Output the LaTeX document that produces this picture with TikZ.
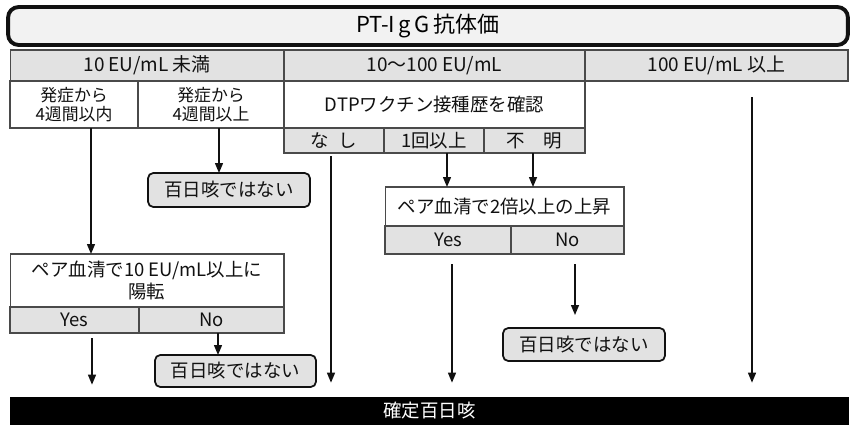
\documentclass[tikz,border=0pt]{standalone}
\usepackage{fontspec}
\setmainfont{Noto Sans CJK JP}
\usetikzlibrary{arrows.meta,positioning,calc}
\definecolor{ink}{HTML}{111111}
\definecolor{rule}{HTML}{4A4A4A}
\definecolor{shade}{HTML}{E2E2E2}
\definecolor{pale}{HTML}{F2F2F2}

\begin{document}
\begin{tikzpicture}[x=0.02cm,y=-0.02cm,font=\fontsize{10.5}{12.5}\selectfont,
    cell/.style={draw=rule,line width=0.6pt,fill=white,inner sep=0pt,
                 outer sep=0pt,align=center,text=ink},
    hdr/.style={cell,fill=shade,font=\fontsize{10.8}{12.5}\selectfont},
    answer/.style={cell,fill=shade},
    verdict/.style={draw=ink,line width=1pt,rounded corners=3pt,fill=shade,
                    inner sep=0pt,outer sep=0pt,text=ink},
    arr/.style={draw=ink,line width=0.8pt,-{Triangle[length=2mm,width=1.6mm]}}]
  \useasboundingbox (0,0) rectangle (855,433);
  % title
  \node[draw=ink,line width=2.2pt,rounded corners=6pt,fill=pale,inner sep=0pt,
        minimum width=16.8cm,minimum height=0.76cm,
        font=\fontsize{12.5}{14}\selectfont] (title) at (428,26) {PT-I\kern2pt g\kern2pt G\kern2pt 抗体価};
  % header row
  \node[hdr,minimum width=5.48cm,minimum height=0.62cm] (h1) at (147,65.5) {10 EU/mL 未満};
  \node[hdr,minimum width=6.02cm,minimum height=0.62cm] (h2) at (434.5,65.5) {10～100 EU/mL};
  \node[hdr,minimum width=5.26cm,minimum height=0.62cm] (h3) at (716.5,65.5) {100 EU/mL 以上};
  % second row
  \node[cell,minimum width=2.56cm,minimum height=0.94cm,
        font=\fontsize{9.6}{11}\selectfont] (early) at (74,104.5) {発症から\\4週間以内};
  \node[cell,minimum width=2.92cm,minimum height=0.94cm,
        font=\fontsize{9.6}{11}\selectfont] (late) at (211,104.5) {発症から\\4週間以上};
  \node[cell,minimum width=6.02cm,minimum height=0.94cm] (dtp) at (434.5,104.5) {DTPワクチン接種歴を確認};
  \node[answer,minimum width=2cm,minimum height=0.5cm] (nashi) at (334,140.5) {な\enspace し};
  \node[answer,minimum width=2cm,minimum height=0.5cm] (ikkai) at (434,140.5) {1回以上};
  \node[answer,minimum width=2.02cm,minimum height=0.5cm] (fumei) at (534.5,140.5) {不\enspace\enspace 明};
  % left branch
  \node[verdict,minimum width=3.24cm,minimum height=0.68cm] (not1) at (229,190) {百日咳ではない};
  \node[cell,minimum width=5.48cm,minimum height=1.06cm] (pair1) at (147,280.5) {ペア血清で10 EU/mL以上に\\陽転};
  \node[answer,minimum width=2.58cm,minimum height=0.52cm] (yes1) at (74.5,320) {Yes};
  \node[answer,minimum width=2.9cm,minimum height=0.52cm] (no1) at (211.5,320) {No};
  \node[verdict,minimum width=3.22cm,minimum height=0.64cm] (not2) at (235.5,371) {百日咳ではない};
  % middle branch
  \node[cell,minimum width=4.78cm,minimum height=0.78cm] (pair2) at (504.5,206.5) {ペア血清で2倍以上の上昇};
  \node[answer,minimum width=2.52cm,minimum height=0.56cm] (yes2) at (448,240) {Yes};
  \node[answer,minimum width=2.26cm,minimum height=0.56cm] (no2) at (567.5,240) {No};
  \node[verdict,minimum width=3.24cm,minimum height=0.66cm] (not3) at (584,344.5) {百日咳ではない};
  % result bar
  \node[fill=black,text=white,inner sep=0pt,minimum width=16.78cm,minimum height=0.56cm] (bar) at (429.5,411) {確定百日咳};
  \coordinate (top3) at (752,97);
  % connectors
  \draw[arr] ([xshift=0.34cm]early.south) -- ([xshift=0.34cm]early.south |- pair1.north);
  \draw[arr] ([xshift=0.16cm]late.south) -- ([xshift=0.16cm]late.south |- not1.north);
  \draw[arr,shorten <=0.06cm,shorten >=0.28cm] ([xshift=-0.06cm]nashi.south) -- ([xshift=-0.06cm]nashi.south |- bar.north);
  \draw[arr] ([xshift=0.26cm]ikkai.south) -- ([xshift=0.26cm]ikkai.south |- pair2.north);
  \draw[arr] ([xshift=-0.03cm]fumei.south) -- ([xshift=-0.03cm]fumei.south |- pair2.north);
  \draw[arr,shorten <=0.2cm,shorten >=0.28cm] ([xshift=0.08cm]yes2.south) -- ([xshift=0.08cm]yes2.south |- bar.north);
  \draw[arr,shorten <=0.2cm,shorten >=0.26cm] ([xshift=0.15cm]no2.south) -- ([xshift=0.15cm]no2.south |- not3.north);
  \draw[arr,shorten <=0.1cm,shorten >=0.24cm] ([xshift=0.35cm]yes1.south) -- ([xshift=0.35cm]yes1.south |- bar.north);
  \draw[arr] ([xshift=0.13cm]no1.south) -- ([xshift=0.13cm]no1.south |- not2.north);
  \draw[arr,shorten >=0.28cm] (top3) -- (top3 |- bar.north);
\end{tikzpicture}
\end{document}
